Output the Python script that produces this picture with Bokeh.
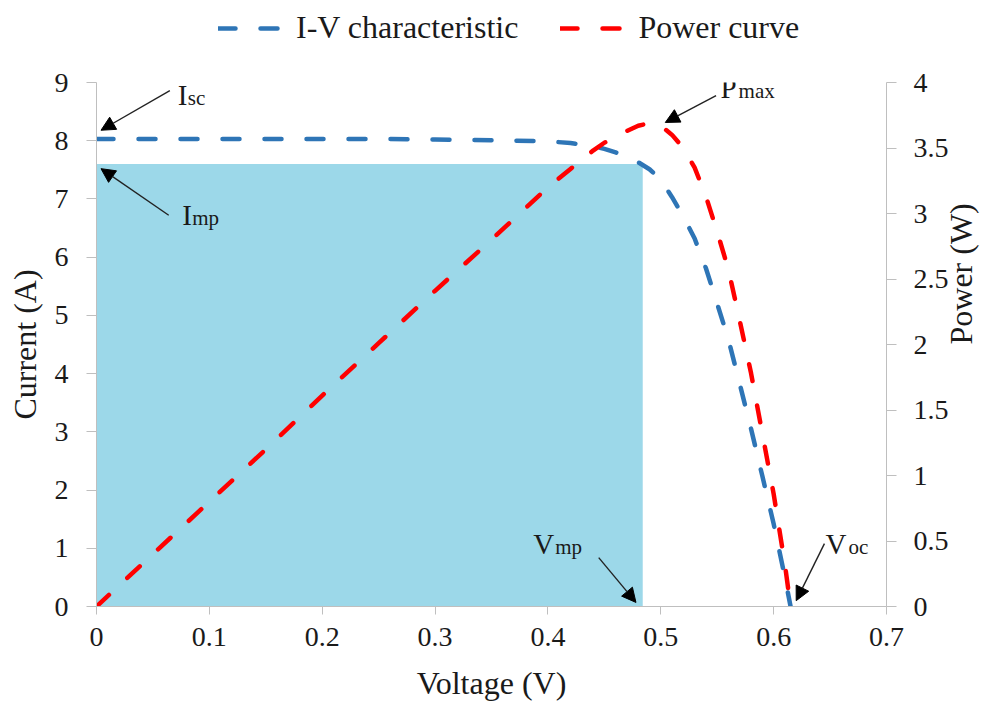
import math
from bokeh.plotting import figure
from bokeh.layouts import column
from bokeh.models import (Range1d, LinearAxis, FixedTicker, Legend, LegendItem,
                          Arrow, NormalHead, Label)
from bokeh.embed import file_html
from bokeh.resources import INLINE

# ---- data ----
voltage = [0.0, 0.05, 0.10, 0.15, 0.20, 0.25, 0.30, 0.35, 0.40, 0.42, 0.44, 0.45,
           0.46, 0.47, 0.48, 0.49, 0.50, 0.51, 0.52, 0.53, 0.54, 0.55, 0.56, 0.57,
           0.58, 0.59, 0.60, 0.61, 0.615]
current = [8.03, 8.03, 8.03, 8.03, 8.03, 8.03, 8.02, 8.01, 7.99, 7.96, 7.91, 7.86,
           7.80, 7.73, 7.63, 7.51, 7.33, 7.03, 6.70, 6.32, 5.81, 5.20, 4.58, 3.82,
           3.05, 2.24, 1.42, 0.50, 0.0]
power = [0.0, 0.40, 0.80, 1.20, 1.61, 2.01, 2.41, 2.80, 3.20, 3.34, 3.48, 3.54,
         3.58, 3.63, 3.67, 3.69, 3.67, 3.60, 3.50, 3.35, 3.13, 2.86, 2.57, 2.18,
         1.78, 1.32, 0.86, 0.32, 0.0]

v_mp = 0.484   # voltage at maximum power point
i_mp = 7.60    # current at maximum power point

x_ticks = [0.0, 0.1, 0.2, 0.3, 0.4, 0.5, 0.6, 0.7]
x_tick_labels = ["0", "0.1", "0.2", "0.3", "0.4", "0.5", "0.6", "0.7"]
i_ticks = [0, 1, 2, 3, 4, 5, 6, 7, 8, 9]
i_tick_labels = ["0", "1", "2", "3", "4", "5", "6", "7", "8", "9"]
p_ticks = [0.0, 0.5, 1.0, 1.5, 2.0, 2.5, 3.0, 3.5, 4.0]
p_tick_labels = ["0", "0.5", "1", "1.5", "2", "2.5", "3", "3.5", "4"]

series_names = ["I-V characteristic", "Power curve"]

FONT = "Liberation Serif"
AXIS_COL = "#BFBFBF"
TXT_COL = "#1a1a1a"
IV_COL = "#2E75B6"
PW_COL = "#FF0000"
LINE_KW = dict(line_width=4.5, line_dash="17 25", line_cap="round", line_join="round")

# ---------------- main chart ----------------
p = figure(width=999, height=649,
           min_border_left=96, min_border_right=110, min_border_top=22, min_border_bottom=103,
           x_range=Range1d(x_ticks[0], x_ticks[-1]), y_range=Range1d(i_ticks[0], i_ticks[-1]),
           output_backend="svg", toolbar_location=None, tools="")
p.extra_y_ranges = {"power": Range1d(p_ticks[0], p_ticks[-1])}
p.outline_line_color = None
p.xgrid.visible = False
p.ygrid.visible = False
p.background_fill_color = "white"
p.border_fill_color = "white"

# shaded maximum-power rectangle
p.quad(left=0, right=v_mp, bottom=0, top=i_mp, fill_color="#9CD8E9", line_color=None)

iv = p.line(voltage, current, line_color=IV_COL, **LINE_KW)
pw = p.line(voltage, power, line_color=PW_COL, y_range_name="power", **LINE_KW)

def style_axis(ax, ticks, labels, tick_out=10, standoff=18):
    ax.ticker = FixedTicker(ticks=ticks)
    ax.major_label_overrides = {t: l for t, l in zip(ticks, labels)}
    ax.axis_line_color = AXIS_COL
    ax.major_tick_line_color = AXIS_COL
    ax.major_tick_in = 0
    ax.major_tick_out = tick_out
    ax.minor_tick_line_color = None
    ax.major_label_text_font = FONT
    ax.major_label_text_font_size = "28px"
    ax.major_label_text_color = TXT_COL
    ax.major_label_standoff = standoff
    ax.axis_label_text_font = FONT
    ax.axis_label_text_font_size = "32px"
    ax.axis_label_text_font_style = "normal"
    ax.axis_label_text_color = TXT_COL
    ax.axis_label_text_line_height = 1.0
    ax.major_label_text_line_height = 1.0

xa = p.xaxis[0]
style_axis(xa, x_ticks, x_tick_labels, tick_out=8, standoff=13)
xa.axis_label = "Voltage (V)"
xa.axis_label_standoff = 16

ya = p.yaxis[0]
style_axis(ya, i_ticks, i_tick_labels, standoff=18)
ya.axis_label = "Current (A)"
ya.axis_label_standoff = 9

ra = LinearAxis(y_range_name="power", axis_label="Power (W)")
style_axis(ra, p_ticks, p_tick_labels, standoff=17)
ra.axis_label_standoff = 9
try:
    ra.axis_label_orientation = math.pi / 2
except Exception:
    pass
p.add_layout(ra, "right")

# ---- annotations (arrows + subscripted labels) ----
i_sc = current[0]
v_oc = voltage[-1]
k_max = power.index(max(power))
v_pmax, p_max = voltage[k_max], power[k_max]

def arrow(x0, y0, x1, y1, rng="default"):
    p.add_layout(Arrow(x_start=x0, y_start=y0, x_end=x1, y_end=y1,
                       line_color="#222222", line_width=1.4, y_range_name=rng,
                       end=NormalHead(size=14, fill_color="black", line_color="black")))

def sublabel(x, y, main, sub, sub_dx, rng="default"):
    p.add_layout(Label(x=x, y=y, text=main, text_font=FONT, text_font_size="29px",
                       text_color=TXT_COL, text_baseline="alphabetic", y_range_name=rng))
    p.add_layout(Label(x=x, y=y, x_offset=sub_dx, y_offset=-3, text=sub, text_font=FONT,
                       text_font_size="21px", text_color=TXT_COL,
                       text_baseline="alphabetic", y_range_name=rng))

arrow(0.065, i_sc + 0.83, 0.004, i_sc + 0.15)
sublabel(0.072, i_sc + 0.75, "I", "sc", 10)

arrow(0.064, i_mp - 0.88, 0.004, i_mp - 0.08)
sublabel(0.076, i_mp - 0.88, "I", "mp", 10)

arrow(v_pmax + 0.059, p_max + 0.21, v_pmax + 0.014, p_max + 0.005, rng="power")
sublabel(v_pmax + 0.063, p_max + 0.265, "P", "max", 18, rng="power")

arrow(v_mp - 0.039, 0.84, v_mp - 0.006, 0.07)
sublabel(v_mp - 0.097, 1.07, "V", "mp", 22)

arrow(v_oc + 0.03, 1.08, v_oc + 0.005, 0.10)
sublabel(v_oc + 0.031, 1.07, "V", "oc", 23)

# ---------------- legend strip above the chart ----------------
# (its plot frame is aligned with the chart's frame by the column layout)
lf = figure(width=999, height=60, min_border=0, x_range=Range1d(0, 1), y_range=Range1d(100, 101),
            output_backend="svg", toolbar_location=None, tools="",
            x_axis_location=None, y_axis_location=None)
lf.outline_line_color = None
lf.xgrid.visible = False
lf.ygrid.visible = False
liv = lf.line(voltage, current, line_color=IV_COL, **LINE_KW)   # outside the strip's range
lpw = lf.line(voltage, power, line_color=PW_COL, **LINE_KW)
legend = Legend(items=[LegendItem(label=series_names[0], renderers=[liv]),
                       LegendItem(label=series_names[1], renderers=[lpw])],
                orientation="horizontal", location=(122, 14),
                border_line_color=None, background_fill_alpha=0,
                label_text_font=FONT, label_text_font_size="32px", label_text_color=TXT_COL,
                glyph_width=65, glyph_height=24, label_height=24,
                spacing=42, label_standoff=13, padding=4, margin=0)
lf.add_layout(legend, "center")

page = column(lf, p, spacing=0)
open("out.html", "w").write(file_html(page, INLINE))
